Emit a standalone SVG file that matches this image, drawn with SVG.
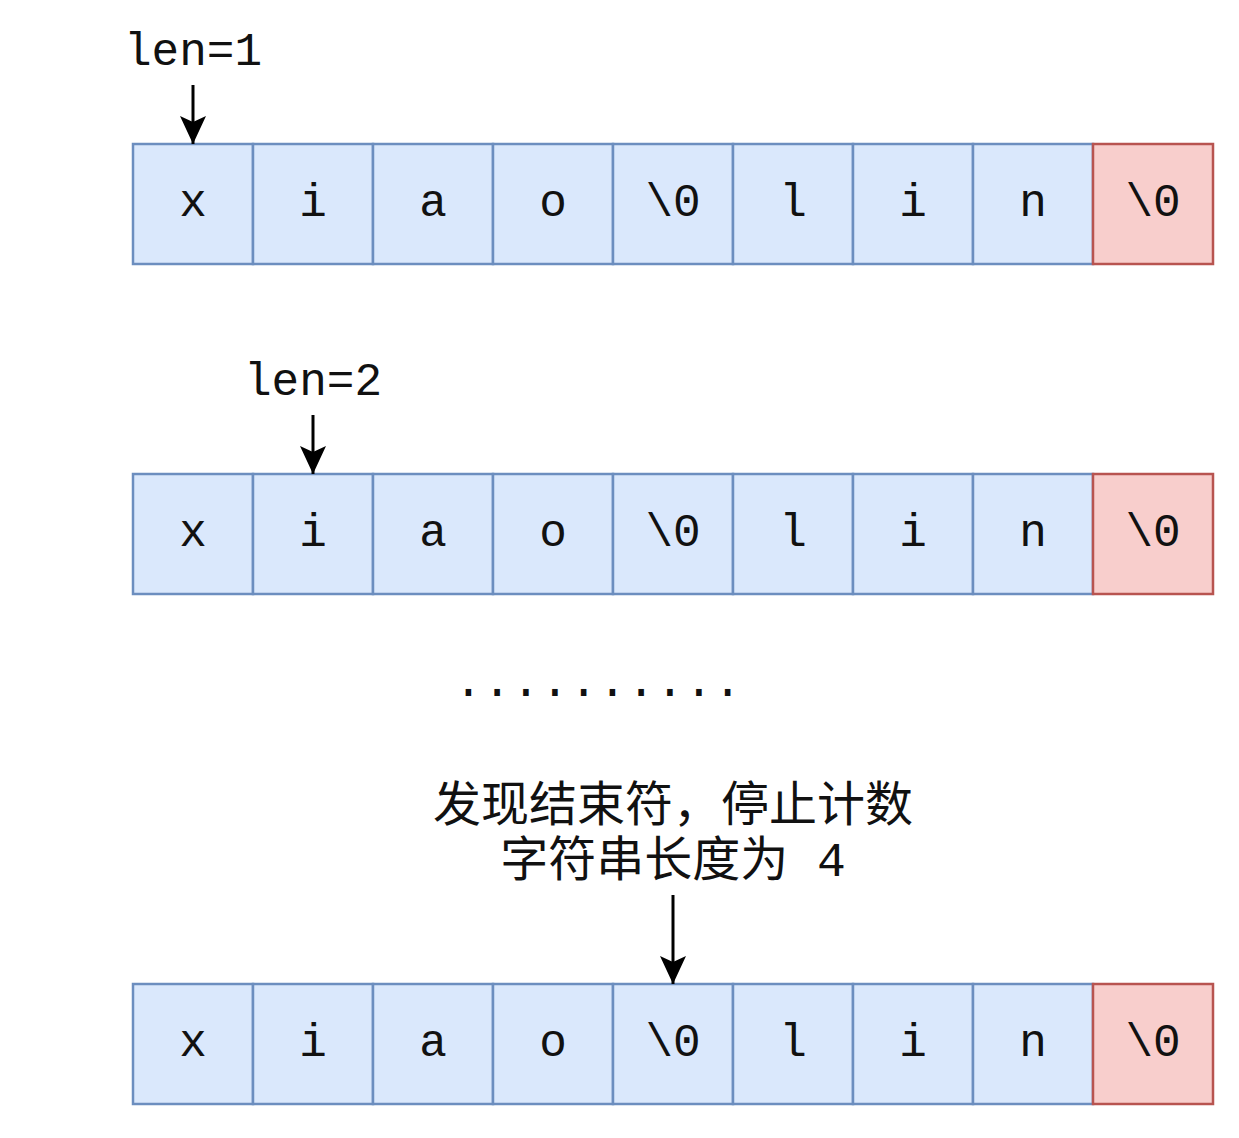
<svg xmlns="http://www.w3.org/2000/svg" width="1239" height="1138" viewBox="0 0 1239 1138">
<style>
.c rect{fill:#dae8fc;stroke:#6c8ebf;stroke-width:2.5}
.e rect{fill:#f8cecc;stroke:#b85450;stroke-width:2.5}
text{font-family:"Liberation Mono","Noto Sans CJK SC",monospace;font-size:46px;fill:#111;text-anchor:middle}
.cjk{font-size:48px}
.conn line{stroke:#000;stroke-width:3;fill:none}
</style>
<defs>
<marker id="ah" markerUnits="userSpaceOnUse" markerWidth="32" markerHeight="32" viewBox="-30 -15 32 30" refX="0" refY="0" orient="auto">
<path d="M0,0 L-28,-13 L-22,0 L-28,13 Z" fill="#000"/>
</marker>
</defs>
<rect width="1239" height="1138" fill="#fff"/>
<!-- row 1 -->
<g id="r1">
<g id="r1c0" class="c"><rect x="133" y="144" width="120" height="120"/><text x="193" y="216">x</text></g>
<g id="r1c1" class="c"><rect x="253" y="144" width="120" height="120"/><text x="313" y="216">i</text></g>
<g id="r1c2" class="c"><rect x="373" y="144" width="120" height="120"/><text x="433" y="216">a</text></g>
<g id="r1c3" class="c"><rect x="493" y="144" width="120" height="120"/><text x="553" y="216">o</text></g>
<g id="r1c4" class="c"><rect x="613" y="144" width="120" height="120"/><text x="673" y="216">\0</text></g>
<g id="r1c5" class="c"><rect x="733" y="144" width="120" height="120"/><text x="793" y="216">l</text></g>
<g id="r1c6" class="c"><rect x="853" y="144" width="120" height="120"/><text x="913" y="216">i</text></g>
<g id="r1c7" class="c"><rect x="973" y="144" width="120" height="120"/><text x="1033" y="216">n</text></g>
<g id="r1c8" class="e"><rect x="1093" y="144" width="120" height="120"/><text x="1153" y="216">\0</text></g>
</g>
<!-- row 2 -->
<g id="r2">
<g id="r2c0" class="c"><rect x="133" y="474" width="120" height="120"/><text x="193" y="546">x</text></g>
<g id="r2c1" class="c"><rect x="253" y="474" width="120" height="120"/><text x="313" y="546">i</text></g>
<g id="r2c2" class="c"><rect x="373" y="474" width="120" height="120"/><text x="433" y="546">a</text></g>
<g id="r2c3" class="c"><rect x="493" y="474" width="120" height="120"/><text x="553" y="546">o</text></g>
<g id="r2c4" class="c"><rect x="613" y="474" width="120" height="120"/><text x="673" y="546">\0</text></g>
<g id="r2c5" class="c"><rect x="733" y="474" width="120" height="120"/><text x="793" y="546">l</text></g>
<g id="r2c6" class="c"><rect x="853" y="474" width="120" height="120"/><text x="913" y="546">i</text></g>
<g id="r2c7" class="c"><rect x="973" y="474" width="120" height="120"/><text x="1033" y="546">n</text></g>
<g id="r2c8" class="e"><rect x="1093" y="474" width="120" height="120"/><text x="1153" y="546">\0</text></g>
</g>
<!-- row 3 -->
<g id="r3">
<g id="r3c0" class="c"><rect x="133" y="984" width="120" height="120"/><text x="193" y="1056">x</text></g>
<g id="r3c1" class="c"><rect x="253" y="984" width="120" height="120"/><text x="313" y="1056">i</text></g>
<g id="r3c2" class="c"><rect x="373" y="984" width="120" height="120"/><text x="433" y="1056">a</text></g>
<g id="r3c3" class="c"><rect x="493" y="984" width="120" height="120"/><text x="553" y="1056">o</text></g>
<g id="r3c4" class="c"><rect x="613" y="984" width="120" height="120"/><text x="673" y="1056">\0</text></g>
<g id="r3c5" class="c"><rect x="733" y="984" width="120" height="120"/><text x="793" y="1056">l</text></g>
<g id="r3c6" class="c"><rect x="853" y="984" width="120" height="120"/><text x="913" y="1056">i</text></g>
<g id="r3c7" class="c"><rect x="973" y="984" width="120" height="120"/><text x="1033" y="1056">n</text></g>
<g id="r3c8" class="e"><rect x="1093" y="984" width="120" height="120"/><text x="1153" y="1056">\0</text></g>
</g>
<!-- labels -->
<g id="lbl1"><text x="193" y="65">len=1</text></g>
<g id="lbl2"><text x="313" y="395">len=2</text></g>
<g id="dots"><text x="598" y="696" style="font-size:48px">..........</text></g>
<g id="lbl3">
<text class="cjk" x="673" y="821">发现结束符，停止计数</text>
<text class="cjk" x="673" y="876">字符串长度为 4</text>
</g>
<!-- connectors -->
<g id="connectors" class="conn">
<line x1="193" y1="85" x2="193" y2="144" marker-end="url(#ah)"/>
<line x1="313" y1="415" x2="313" y2="474" marker-end="url(#ah)"/>
<line x1="673" y1="895" x2="673" y2="984" marker-end="url(#ah)"/>
</g>
</svg>
